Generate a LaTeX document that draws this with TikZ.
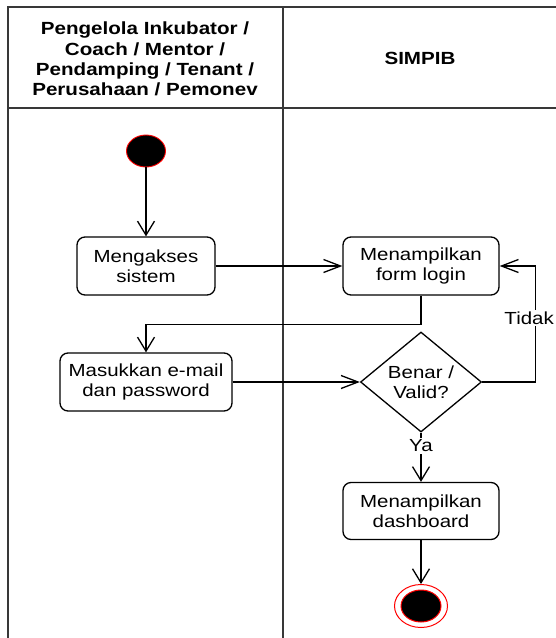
\documentclass[tikz,border=0pt]{standalone}
\usepackage{fontspec}
\setmainfont{Liberation Sans}[FakeStretch=1.17]
\usetikzlibrary{arrows.meta,shapes.geometric}

\tikzset{
  lane/.style={line width=1.7pt, draw=black!78},
  act/.style={draw=black, line width=1.3pt, rounded corners=8pt, fill=white,
    align=center, inner sep=0pt, font=\fontsize{17.5}{20}\selectfont},
  decision/.style={draw=black, line width=1.3pt, diamond, fill=white, align=center,
    inner sep=0pt, font=\fontsize{17.5}{20}\selectfont},
  initnode/.style={ellipse, fill=black, draw=red, line width=0.9pt,
    minimum width=39pt, minimum height=32pt, inner sep=0pt},
  finalring/.style={ellipse, fill=white, draw=red, line width=1pt,
    minimum width=53pt, minimum height=43pt, inner sep=0pt},
  finaldot/.style={ellipse, fill=black, draw=red, line width=1pt,
    minimum width=40pt, minimum height=32pt, inner sep=0pt},
  flowh/.style={draw=black, line width=1.3pt, -{Straight Barb[length=17pt,width=13pt,line width=1.3pt]}},
  flowv/.style={draw=black, line width=1.3pt, -{Straight Barb[length=14pt,width=17pt,line width=1.3pt]}},
  guard/.style={fill=white, inner sep=1.5pt, font=\fontsize{17.5}{20}\selectfont},
  head/.style={align=center, font=\bfseries\fontsize{17.6}{20.3}\selectfont}
}

\begin{document}
\begin{tikzpicture}[x=1pt, y=-1pt]
\useasboundingbox (0,0) rectangle (556,638);
\clip (0,0) rectangle (556,638);

% swimlane frame
\draw[lane] (8,660) -- (8,7) -- (580,7);
\draw[lane] (8,108) -- (580,108);
\draw[lane] (283,7) -- (283,660);

% lane headers
\node[head] (laneA) at (145,59) {Pengelola Inkubator /\\Coach / Mentor /\\Pendamping / Tenant /\\Perusahaan / Pemonev};
\node[head] (laneB) at (420,58) {SIMPIB};

% activities
\node[initnode] (start) at (146,151) {};
\node[act, minimum width=138pt, minimum height=58pt] (akses) at (146,266) {Mengakses\\sistem};
\node[act, minimum width=156pt, minimum height=58pt] (login) at (421,266) {Menampilkan\\form login};
\node[act, minimum width=172pt, minimum height=58pt] (masuk) at (146,382) {Masukkan e-mail\\dan password};
\node[decision, minimum width=121pt, minimum height=100pt] (valid) at (421,382) {Benar /\\Valid?};
\node[act, minimum width=156pt, minimum height=57pt] (dash) at (421,511) {Menampilkan\\dashboard};
\node[finalring] (stop) at (421,606) {};
\node[finaldot] (stopdot) at (421,606) {};

% control flows
\draw[flowv] (start.south) -- (akses.north);
\draw[flowh] (akses.east) -- (login.west);
\draw[flowv] (login.south) -- ++(0,29) -| (masuk.north);
\draw[flowh] (masuk.east) -- (valid.west);
\draw[flowh] (valid.east) -- ++(53,0) |- node[guard, pos=0.275, xshift=-6pt] {Tidak} (login.east);
\draw[flowv] (valid.south) -- node[guard, pos=0.27] {Ya} (dash.north);
\draw[flowv] (dash.south) -- (stop.north);
\end{tikzpicture}
\end{document}
